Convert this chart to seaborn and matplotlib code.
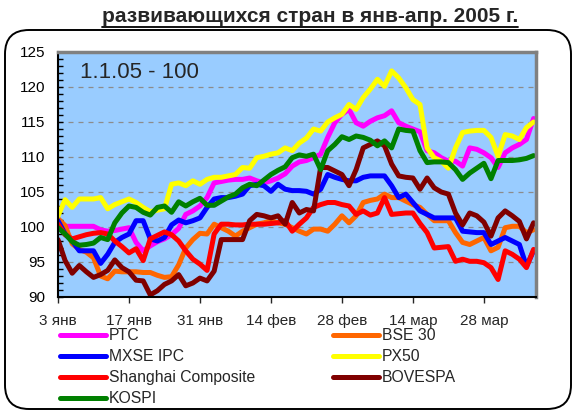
import numpy as np
import pandas as pd
import seaborn as sns
import matplotlib.pyplot as plt
from matplotlib.patches import FancyBboxPatch
from matplotlib.lines import Line2D

# index values, 1.1.05 = 100, one value per trading day
rts = [100.6, 100.1, 100.1, 100.1, 100.1, 100.1, 99.6, 99.4, 99.5, 99.7, 99.9, 97.8, 96.6, 97.3, 97.9, 98.3, 98.9, 99.8,
       101.8, 102.3, 103.0, 104.2, 106.3, 106.5, 106.7, 106.8, 106.8, 107.0, 106.6, 106.3, 106.6, 107.0, 107.6, 108.7, 109.3,
       109.5, 109.9, 110.4, 112.8, 114.9, 116.1, 116.8, 114.9, 114.4, 115.1, 115.6, 115.9, 116.6, 114.9, 114.4, 114.0, 113.6,
       110.9, 110.6, 109.9, 109.4, 109.4, 108.7, 111.3, 111.1, 110.6, 109.9, 108.5, 110.6, 111.3, 111.8, 112.5, 115.5]
bse30 = [101.2, 100.2, 97.6, 96.8, 96.4, 95.6, 93.0, 92.6, 93.7, 93.6, 93.6, 93.6, 93.5, 93.5, 93.1, 92.8, 92.9, 94.6,
         97.0, 98.2, 99.1, 99.0, 100.4, 99.9, 99.4, 98.7, 99.4, 99.9, 100.4, 100.6, 100.9, 100.6, 100.4, 99.9, 99.4,
         99.0, 99.7, 99.7, 99.4, 100.4, 101.6, 100.6, 101.6, 103.5, 103.8, 104.0, 104.7, 104.2, 104.2, 103.7, 103.2, 102.8,
         101.8, 100.9, 100.9, 100.9, 99.2, 97.8, 97.5, 98.0, 98.5, 96.6, 97.1, 99.9, 100.1, 100.1, 99.2, 99.6]
mxse = [100.9, 99.0, 98.0, 96.6, 96.6, 96.6, 94.8, 96.1, 97.8, 98.5, 99.0, 100.9, 100.9, 98.3, 98.0, 98.5, 100.3, 101.0,
        100.6, 100.9, 101.3, 102.8, 104.0, 104.2, 104.2, 104.4, 104.7, 105.9, 106.1, 105.9, 105.1, 106.1, 105.4, 105.2, 105.2,
        105.1, 104.7, 105.4, 107.5, 107.1, 106.8, 106.6, 106.6, 107.1, 107.3, 107.3, 107.3, 105.9, 104.2, 104.7, 103.5, 102.3,
        101.8, 101.3, 101.3, 101.3, 101.3, 99.4, 99.3, 99.2, 99.2, 97.5, 98.0, 98.5, 98.0, 97.5, 94.4, 96.6]
px50 = [101.6, 103.9, 102.8, 104.0, 104.0, 104.0, 104.2, 102.6, 103.2, 103.6, 104.0, 103.5, 102.8, 102.2, 102.4, 102.6, 106.1, 106.3,
        105.9, 106.6, 106.1, 106.8, 107.1, 107.1, 107.3, 107.5, 108.5, 108.4, 109.9, 110.1, 110.4, 110.6, 111.3, 110.9, 112.0,
        112.7, 114.0, 113.7, 115.0, 115.6, 116.1, 117.5, 116.8, 118.5, 119.7, 121.1, 120.1, 122.3, 121.3, 119.9, 118.2, 117.5,
        111.3, 109.9, 109.4, 108.4, 111.3, 113.5, 113.7, 113.8, 113.8, 112.8, 110.1, 113.2, 113.0, 112.5, 114.2, 115.0]
shanghai = [100.4, 98.9, 98.3, 98.6, 98.9, 99.1, 99.2, 99.0, 98.0, 97.2, 96.3, 96.9, 95.2, 98.3, 98.8, 99.3, 98.9, 98.0,
            96.6, 95.4, 94.7, 93.8, 99.0, 100.4, 100.4, 100.3, 100.3, 100.4, 100.4, 100.4, 100.5, 100.6, 100.9, 99.4, 100.4,
            101.3, 102.8, 103.2, 103.5, 103.5, 103.2, 103.0, 101.8, 102.3, 101.7, 102.0, 104.2, 101.8, 101.9, 102.0, 102.0, 100.5,
            99.2, 97.0, 97.1, 97.2, 95.1, 95.4, 95.1, 95.1, 94.9, 94.2, 92.5, 96.6, 96.1, 95.4, 94.2, 96.8]
bovespa = [98.2, 95.2, 93.4, 94.5, 93.6, 92.8, 93.2, 93.8, 95.3, 94.2, 93.6, 92.4, 92.3, 90.3, 90.9, 91.8, 92.3, 93.2,
           91.6, 92.0, 92.7, 92.3, 93.7, 98.2, 98.2, 98.2, 98.2, 100.9, 101.8, 101.6, 101.3, 101.6, 100.4, 103.5, 102.0,
           102.5, 102.3, 108.5, 108.5, 108.0, 107.5, 105.9, 108.2, 111.3, 111.8, 112.3, 111.6, 109.0, 107.3, 107.1, 107.0, 105.4,
           107.0, 105.6, 105.0, 104.7, 102.0, 100.3, 102.0, 101.6, 100.7, 98.7, 101.3, 102.3, 101.6, 100.8, 98.3, 100.6]
kospi = [99.9, 99.0, 97.9, 97.4, 97.5, 97.7, 98.5, 98.2, 100.6, 102.0, 103.0, 102.8, 102.1, 101.7, 102.8, 103.0, 102.1, 103.6,
         103.0, 103.6, 104.1, 103.1, 103.1, 103.7, 104.3, 104.7, 105.6, 106.1, 105.9, 106.7, 107.5, 108.1, 108.6, 109.9, 110.3,
         110.1, 110.4, 108.2, 110.9, 111.8, 112.9, 112.5, 113.0, 112.8, 112.4, 111.6, 112.3, 111.3, 114.0, 113.8, 113.7, 110.9,
         109.2, 109.3, 109.3, 109.2, 108.2, 106.8, 107.7, 108.4, 109.1, 106.9, 109.5, 109.5, 109.5, 109.6, 109.8, 110.2]

names = ["РТС", "BSE 30", "MXSE IPC", "PX50", "Shanghai Composite", "BOVESPA", "KOSPI"]
series = [rts, bse30, mxse, px50, shanghai, bovespa, kospi]
colors = ["#FF00FF", "#FF6600", "#0000FF", "#FFFF00", "#FF0000", "#800000", "#008000"]
tick_labels = ["3 янв", "17 янв", "31 янв", "14 фев", "28 фев", "14 мар", "28 мар"]

df = pd.concat([pd.DataFrame({"day": np.arange(len(s)), "value": s, "index": n})
                for n, s in zip(names, series)], ignore_index=True)

sns.set_style("white")
plt.rcParams['font.family'] = ['Liberation Sans', 'DejaVu Sans']

fig = plt.figure(figsize=(5.74, 4.16), dpi=100)

# rounded frame around the chart (pixel coords)
bg = fig.add_axes([0, 0, 1, 1], zorder=-1)
bg.set_xlim(0, 574)
bg.set_ylim(416, 0)
bg.axis('off')
bg.add_patch(FancyBboxPatch((5, 30), 566, 379, boxstyle="round,pad=0,rounding_size=24",
                            fc='white', ec='black', lw=1.4))

ax = fig.add_axes([58/574, 1-297/416, (535.7-58)/574, (297-52)/416])
ax.set_facecolor('#99CCFF')
ax.yaxis.grid(True, linestyle=(0, (4, 4)), color='#8c8c8c', lw=0.9)
ax.set_axisbelow(True)

sns.lineplot(data=df, x="day", y="value", hue="index", hue_order=names,
             palette=dict(zip(names, colors)), linewidth=3.6, estimator=None,
             legend=False, ax=ax)
for ln in ax.get_lines():
    ln.set_solid_joinstyle('round')

ax.set_xlim(0, 67.3)
ax.set_ylim(90, 125)
ax.set_xlabel('')
ax.set_ylabel('')
ax.set_xticks(np.arange(0, 70, 10))
ax.set_xticklabels(tick_labels)
ax.set_yticks(np.arange(90, 126, 5))
ax.set_yticks(np.arange(90, 126, 1), minor=True)
ax.tick_params(axis='y', which='both', direction='in', length=3.3, width=1, left=True,
               labelsize=11, pad=9, colors='black')
ax.tick_params(axis='x', which='major', direction='out', length=4, width=1, bottom=True,
               labelsize=11, pad=8)
for side in ['left', 'bottom']:
    ax.spines[side].set_color('black')
    ax.spines[side].set_linewidth(1.5)
for side in ['top', 'right']:
    ax.spines[side].set_color('#808080')
    ax.spines[side].set_linewidth(2.5)

fig.text(80/574, 1-72/416, "1.1.05 - 100", fontsize=16, ha='left', va='center')

title = fig.text(310/574, 1-16/416, "развивающихся стран в янв-апр. 2005 г.",
                 fontsize=15, fontweight='bold', ha='center', va='center')
fig.canvas.draw()
bb = title.get_window_extent()
bg.plot([bb.x0, bb.x1], [416 - bb.y0 + 1, 416 - bb.y0 + 1], color='black', lw=1.3)

order = [0, 2, 4, 6, 1, 3, 5]
handles = [Line2D([], [], color=colors[i], lw=3.6, solid_capstyle='round') for i in order]
labels = [names[i] for i in order]
leg = fig.legend(handles, labels, ncol=2, loc='upper left', bbox_to_anchor=(60/574, 1-328/416),
                 frameon=True, fancybox=False, facecolor='white', edgecolor='none', framealpha=1,
                 fontsize=11.3, handlelength=2.9, handletextpad=0.2, columnspacing=5.0,
                 labelspacing=0.39, borderpad=0, borderaxespad=0)
leg.set_zorder(5)

fig.savefig("out.png", dpi=100)
